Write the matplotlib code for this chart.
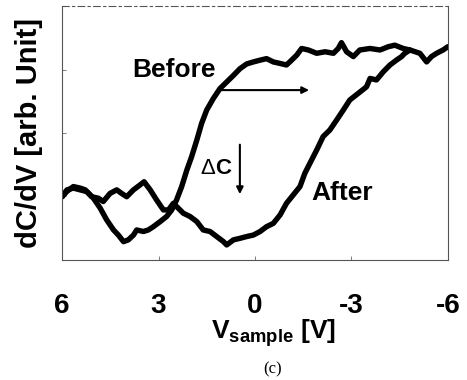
import matplotlib
matplotlib.use('Agg')
import matplotlib.pyplot as plt

plt.rcParams['font.family'] = ['Liberation Sans', 'DejaVu Sans']
plt.rcParams['mathtext.fontset'] = 'custom'
plt.rcParams['mathtext.bf'] = 'Liberation Sans:bold'
plt.rcParams['mathtext.rm'] = 'Liberation Sans'

# values (dC/dV in arbitrary units, 0 = bottom of frame, 1 = top)
v_before = [6.0, 5.85, 5.65, 5.44, 5.23, 5.03, 4.82, 4.61, 4.40, 4.25, 4.09, 3.94, 3.78, 3.68,
            3.47, 3.32, 3.16, 2.95, 2.75, 2.59, 2.44, 2.28, 2.12, 1.97, 1.81, 1.66, 1.50, 1.30,
            1.09, 0.88, 0.67, 0.47, 0.26, 0.05, -0.16, -0.36, -0.57, -0.78, -0.98, -1.14, -1.30,
            -1.45, -1.66, -1.92, -2.18, -2.44, -2.59, -2.69, -2.85, -3.06, -3.26, -3.58, -3.89,
            -4.15, -4.35, -4.61, -4.82, -5.13, -5.34, -5.49, -5.65, -5.85, -6.0]
c_before = [0.249, 0.276, 0.283, 0.276, 0.269, 0.244, 0.205, 0.157, 0.118, 0.098, 0.072, 0.079,
            0.098, 0.118, 0.112, 0.118, 0.131, 0.151, 0.171, 0.197, 0.236, 0.289, 0.354, 0.407,
            0.472, 0.538, 0.591, 0.635, 0.675, 0.701, 0.727, 0.753, 0.772, 0.780, 0.787, 0.793,
            0.780, 0.774, 0.768, 0.787, 0.807, 0.833, 0.827, 0.814, 0.820, 0.814, 0.833, 0.856,
            0.820, 0.801, 0.827, 0.833, 0.827, 0.840, 0.846, 0.833, 0.827, 0.814, 0.780, 0.801,
            0.814, 0.827, 0.840]

v_after = [6.0, 5.85, 5.65, 5.44, 5.28, 5.08, 4.87, 4.72, 4.51, 4.30, 4.15, 3.99, 3.78, 3.58,
           3.45, 3.26, 3.06, 2.85, 2.69, 2.54, 2.38, 2.23, 2.02, 1.81, 1.61, 1.40, 1.19, 0.98,
           0.88, 0.67, 0.47, 0.26, 0.05, -0.16, -0.36, -0.57, -0.78, -0.98, -1.19, -1.40, -1.55,
           -1.71, -1.92, -2.12, -2.33, -2.54, -2.75, -2.95, -3.21, -3.47, -3.58, -3.78, -3.99,
           -4.20, -4.40, -4.56, -4.66, -4.82]
c_after = [0.249, 0.270, 0.289, 0.283, 0.276, 0.249, 0.243, 0.230, 0.262, 0.276, 0.262, 0.249,
           0.276, 0.295, 0.308, 0.276, 0.236, 0.197, 0.197, 0.223, 0.203, 0.184, 0.171, 0.151,
           0.118, 0.112, 0.092, 0.072, 0.059, 0.079, 0.085, 0.092, 0.098, 0.112, 0.131, 0.144,
           0.177, 0.223, 0.256, 0.289, 0.341, 0.381, 0.433, 0.486, 0.512, 0.551, 0.591, 0.630,
           0.656, 0.682, 0.715, 0.709, 0.741, 0.768, 0.787, 0.801, 0.814, 0.827]

xticks = [6, 3, 0, -3, -6]

fig = plt.figure(figsize=(4.67, 3.80), dpi=100)
ax = fig.add_axes([0.133, 0.316, 0.826, 0.668])

ax.plot(v_before, c_before, color='black', lw=3.9, solid_joinstyle='round', solid_capstyle='round')
ax.plot(v_after, c_after, color='black', lw=3.9, solid_joinstyle='round', solid_capstyle='round')

ax.set_xlim(6, -6)
ax.set_ylim(0, 1)
ax.set_xticks(xticks)
ax.set_xticklabels([str(t) for t in xticks], fontsize=20, fontweight='bold')
ax.set_yticks([0.25, 0.5, 0.75])
ax.set_yticklabels([])
ax.tick_params(axis='x', direction='in', length=3, width=0.6, color='#666666', pad=24)
ax.tick_params(axis='y', direction='in', length=3, width=0.6, color='#666666')
for s in ax.spines.values():
    s.set_linewidth(0.8)
    s.set_color('#555555')
ax.spines['right'].set_linestyle((0, (1, 1)))
ax.spines['top'].set_linestyle((0, (6, 3, 2, 3)))

ax.set_ylabel('dC/dV [arb. Unit]', fontsize=21, fontweight='bold', labelpad=10)
ax.text(0.547, -0.29, r'$\mathbf{V_{sample}}$ [V]', fontsize=19, fontweight='bold',
        ha='center', va='center', transform=ax.transAxes)

ax.text(2.52, 0.748, 'Before', fontsize=19, fontweight='bold', ha='center', va='center')
ax.text(-2.70, 0.264, 'After', fontsize=19, fontweight='bold', ha='center', va='center')
ax.text(1.25, 0.362, 'Δ', fontsize=16, ha='right', va='center')
ax.text(1.25, 0.362, 'C', fontsize=16, fontweight='bold', ha='left', va='center')

ax.annotate('', xy=(-1.77, 0.669), xytext=(1.18, 0.669),
            arrowprops=dict(arrowstyle='-|>', color='black', lw=1.5, mutation_scale=10))
ax.annotate('', xy=(0.47, 0.248), xytext=(0.47, 0.465),
            arrowprops=dict(arrowstyle='-|>', color='black', lw=1.5, mutation_scale=10))

fig.text(0.583, 0.029, '(c)', fontsize=12, family='Liberation Serif', ha='center', va='center')

fig.savefig('out.png', dpi=100)
